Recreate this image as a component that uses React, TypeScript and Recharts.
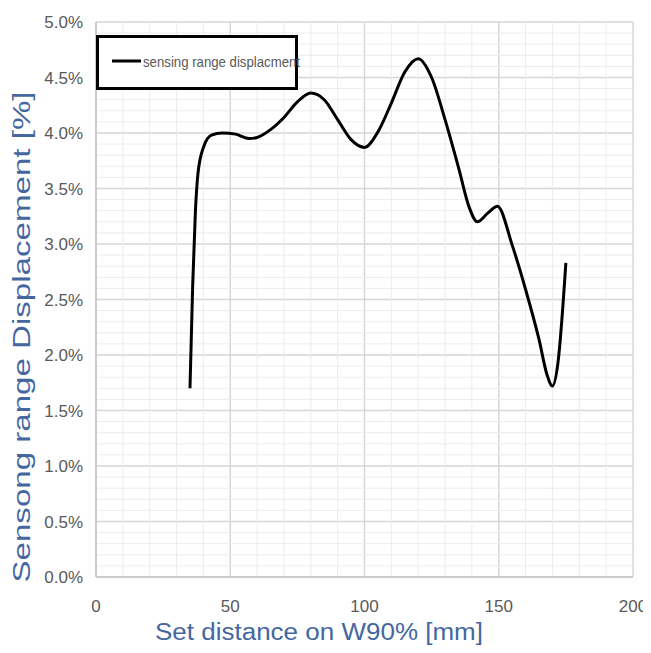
import React from 'react';
import { LineChart, Line, XAxis, YAxis, CartesianGrid, ReferenceLine, Label } from 'recharts';

const distances = [35, 36, 37, 38, 40, 43, 47, 52, 57, 60, 65, 70, 75, 80, 85, 90, 95, 100, 105, 110, 115, 120, 125, 130, 135, 139, 142, 146, 149.5, 155, 160, 165, 168, 170, 172, 175];
const displacement = [1.70, 2.62, 3.28, 3.64, 3.87, 3.98, 4.00, 3.99, 3.95, 3.96, 4.03, 4.14, 4.28, 4.36, 4.30, 4.12, 3.94, 3.87, 4.01, 4.27, 4.55, 4.67, 4.50, 4.12, 3.69, 3.33, 3.20, 3.28, 3.34, 2.99, 2.59, 2.14, 1.82, 1.72, 1.92, 2.83];

const seriesName = 'sensing range displacment';
const xTitle = 'Set distance on W90% [mm]';
const yTitle = 'Sensong range Displacement [%]';

const xTicks = [0, 50, 100, 150, 200];
const yTicks = [0, 0.5, 1.0, 1.5, 2.0, 2.5, 3.0, 3.5, 4.0, 4.5, 5.0];
const minorX = [10, 20, 30, 40, 60, 70, 80, 90, 110, 120, 130, 140, 160, 170, 180, 190];
const minorY = [0.1, 0.2, 0.3, 0.4, 0.6, 0.7, 0.8, 0.9, 1.1, 1.2, 1.3, 1.4, 1.6, 1.7, 1.8, 1.9, 2.1, 2.2, 2.3, 2.4, 2.6, 2.7, 2.8, 2.9, 3.1, 3.2, 3.3, 3.4, 3.6, 3.7, 3.8, 3.9, 4.1, 4.2, 4.3, 4.4, 4.6, 4.7, 4.8, 4.9];

const data = distances.map((d, i) => ({ x: d, y: displacement[i] }));

const FONT = '"Liberation Sans", Arial, sans-serif';
const TICK_COLOR = '#595959';
const TITLE_COLOR = '#44679F';

const LegendBox = () => (
  <div style={{ position: 'absolute', left: 88, top: 27, width: 202, height: 55, boxSizing: 'border-box', border: '3px solid #000', background: '#fff' }}>
    <svg width={196} height={49} style={{ overflow: 'visible', position: 'absolute', left: 0, top: 0 }}>
      <line x1={13} x2={42} y1={23} y2={23} stroke="#000" strokeWidth={3} />
      <text x={44} y={23} dominantBaseline="central" fontFamily={FONT} fontSize={15} fill={TICK_COLOR} textLength={157} lengthAdjust="spacingAndGlyphs">
        {seriesName}
      </text>
    </svg>
  </div>
);

export default function App() {
  return (
    <div style={{ position: 'relative', width: 643, height: 645 }}>
      <LineChart width={643} height={645} data={data} margin={{ top: 14, right: 18, left: 0, bottom: 0 }}>
        <CartesianGrid stroke="#d6d6d6" strokeWidth={1.5} />
        {minorX.map((v) => (
          <ReferenceLine key={'mx' + v} x={v} stroke="#ececec" strokeWidth={1} />
        ))}
        {minorY.map((v) => (
          <ReferenceLine key={'my' + v} y={v} stroke="#ececec" strokeWidth={1} />
        ))}
        <XAxis
          type="number"
          dataKey="x"
          domain={[0, 200]}
          ticks={xTicks}
          height={76}
          tickLine={false}
          tickSize={0}
          tickMargin={23}
          axisLine={{ stroke: '#c4c4c4', strokeWidth: 1.5 }}
          tick={{ fill: TICK_COLOR, fontSize: 17, fontFamily: FONT }}
          interval={0}
        >
          <Label
            content={() => (
              <text x={311} y={632} textAnchor="middle" fontFamily={FONT} fontSize={23} fill={TITLE_COLOR} textLength={328} lengthAdjust="spacingAndGlyphs">
                {xTitle}
              </text>
            )}
          />
        </XAxis>
        <YAxis
          type="number"
          domain={[0, 5]}
          ticks={yTicks}
          width={88}
          tickLine={false}
          tickSize={0}
          tickMargin={13}
          axisLine={{ stroke: '#c4c4c4', strokeWidth: 1.5 }}
          tick={{ fill: TICK_COLOR, fontSize: 17, fontFamily: FONT }}
          tickFormatter={(v: number) => v.toFixed(1) + '%'}
          interval={0}
        >
          <Label
            content={() => (
              <text x={14} y={329} transform="rotate(-90 14 329)" textAnchor="middle" dominantBaseline="central" fontFamily={FONT} fontSize={23} fill={TITLE_COLOR} textLength={491} lengthAdjust="spacingAndGlyphs">
                {yTitle}
              </text>
            )}
          />
        </YAxis>
        <Line
          type="monotone"
          dataKey="y"
          name={seriesName}
          stroke="#000"
          strokeWidth={3}
          dot={false}
          activeDot={false}
          isAnimationActive={false}
        />
      </LineChart>
      <LegendBox />
    </div>
  );
}
